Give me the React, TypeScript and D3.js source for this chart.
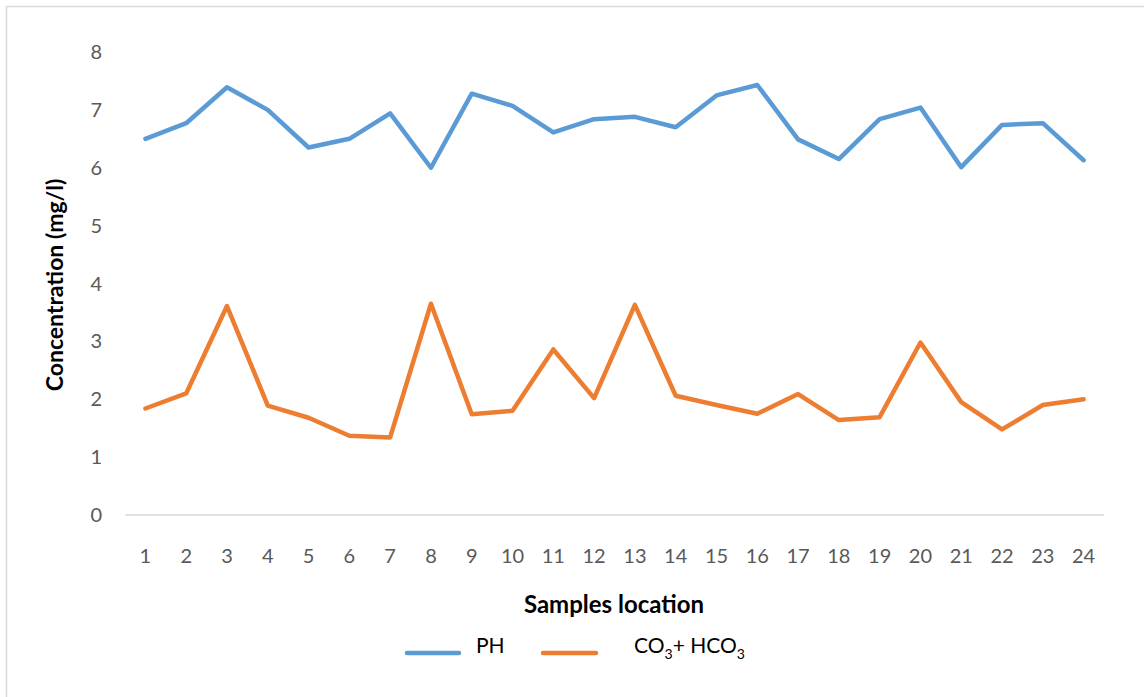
import React from "react";
import * as d3 from "d3";

const samples = d3.range(1, 25).map(String);
const ph = [6.5, 6.77, 7.39, 7.0, 6.35, 6.5, 6.94, 6.0, 7.28, 7.07, 6.61, 6.84, 6.88, 6.7, 7.25, 7.43, 6.49, 6.15, 6.84, 7.04, 6.01, 6.74, 6.77, 6.13];
const co3 = [1.84, 2.1, 3.61, 1.89, 1.68, 1.37, 1.34, 3.65, 1.74, 1.8, 2.86, 2.02, 3.63, 2.06, 1.9, 1.75, 2.09, 1.64, 1.69, 2.98, 1.95, 1.48, 1.9, 2.0];
const yTicks = [0, 1, 2, 3, 4, 5, 6, 7, 8];

const W = 1144;
const H = 697;
const font = "Lato, 'Open Sans', sans-serif";

function App() {
    var x = d3.scaleBand().domain(samples).range([125, 1104]);
    var y = d3.scaleLinear().domain([0, 8]).range([515, 52]);

    var line = d3.line<number>()
        .x((d, i) => (x(samples[i]) as number) + x.bandwidth() / 2)
        .y((d) => y(d));

    return (
        <svg width={W} height={H} style={{ position: "absolute", left: 0, top: 0, background: "#fff" }}>
            <rect x={6.5} y={6.5} width={W + 20} height={H + 20} fill="#fff" stroke="#d9d9d9" strokeWidth={1.5} />
            {/* baseline */}
            <line x1={125} x2={1104} y1={y(0)} y2={y(0)} stroke="#d9d9d9" strokeWidth={1.5} />
            {yTicks.map((t) => (
                <text key={t} x={102} y={y(t)} dy="0.35em" textAnchor="end" fontFamily={font} fontSize={20} fill="#595959">{t}</text>
            ))}
            {samples.map((s) => (
                <text key={s} x={(x(s) as number) + x.bandwidth() / 2} y={556} dy="0.35em" textAnchor="middle" fontFamily={font} fontSize={20} fill="#595959">{s}</text>
            ))}
            <path d={line(ph) as string} fill="none" stroke="#5b9bd5" strokeWidth={4.5} strokeLinejoin="round" strokeLinecap="round" />
            <path d={line(co3) as string} fill="none" stroke="#ed7d31" strokeWidth={4.5} strokeLinejoin="round" strokeLinecap="round" />
            <text transform="translate(55,285) rotate(-90)" textAnchor="middle" dy="0.35em" fontFamily={font} fontSize={23} fontWeight="bold" fill="#000">Concentration (mg/l)</text>
            <text x={614} y={605} textAnchor="middle" dy="0.35em" fontFamily={font} fontSize={24} fontWeight="bold" fill="#000">Samples location</text>
            {/* legend */}
            <line x1={407} x2={459} y1={653} y2={653} stroke="#5b9bd5" strokeWidth={4.5} strokeLinecap="round" />
            <text x={476} y={646} dy="0.35em" fontFamily={font} fontSize={21} fill="#000">PH</text>
            <line x1={543} x2={596} y1={653} y2={653} stroke="#ed7d31" strokeWidth={4.5} strokeLinecap="round" />
            <text x={634} y={646} dy="0.35em" fontFamily={font} fontSize={21} fill="#000">
                CO<tspan fontSize={14} dy={6}>3</tspan><tspan dy={-6}>+ HCO</tspan><tspan fontSize={14} dy={6}>3</tspan>
            </text>
        </svg>
    );
}

export default App;
